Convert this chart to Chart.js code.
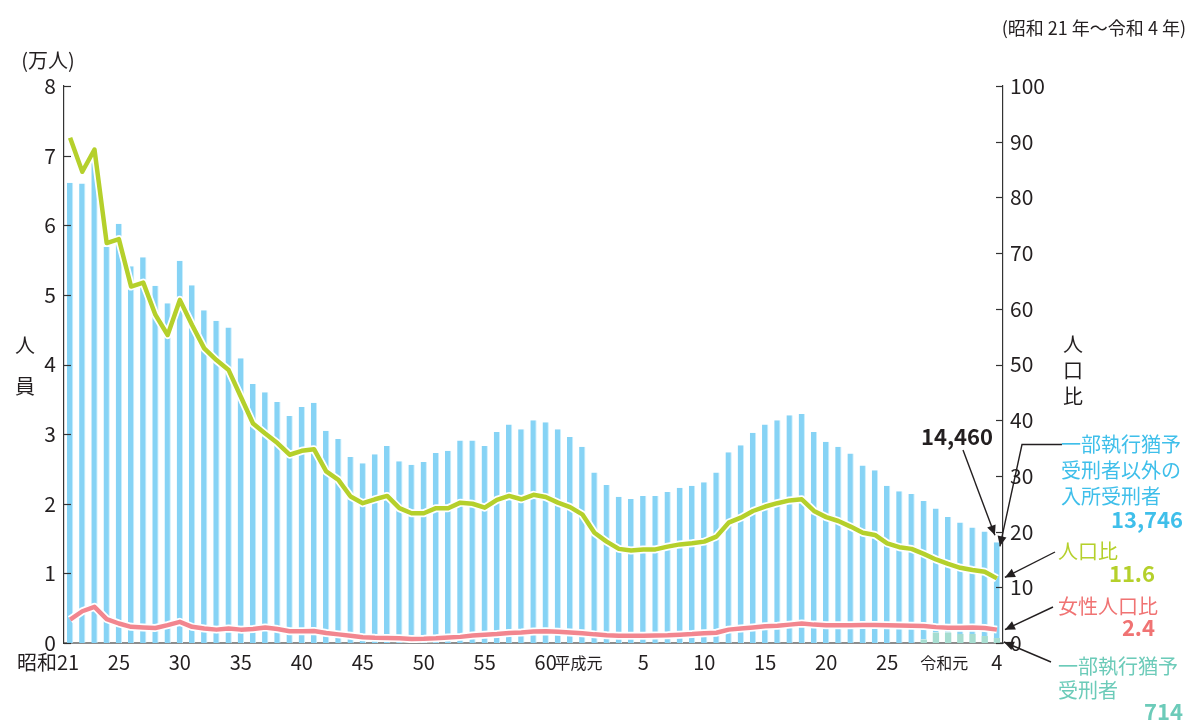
<!DOCTYPE html>
<html>
<head>
<meta charset="utf-8">
<script src="https://cdn.jsdelivr.net/npm/chart.js@4.4.1/dist/chart.umd.min.js"></script>
<style>
  html, body { margin: 0; padding: 0; background: #fff; }
  #wrap { position: relative; width: 1192px; height: 720px; }
</style>
</head>
<body>
<div id="wrap"><canvas id="chart" width="1192" height="720"></canvas></div>
<script>
// 年次 (昭和21年～令和4年)
const years = [
  '昭和21','昭和22','昭和23','昭和24','昭和25','昭和26','昭和27','昭和28','昭和29','昭和30',
  '昭和31','昭和32','昭和33','昭和34','昭和35','昭和36','昭和37','昭和38','昭和39','昭和40',
  '昭和41','昭和42','昭和43','昭和44','昭和45','昭和46','昭和47','昭和48','昭和49','昭和50',
  '昭和51','昭和52','昭和53','昭和54','昭和55','昭和56','昭和57','昭和58','昭和59','昭和60',
  '昭和61','昭和62','昭和63',
  '平成元','平成2','平成3','平成4','平成5','平成6','平成7','平成8','平成9','平成10',
  '平成11','平成12','平成13','平成14','平成15','平成16','平成17','平成18','平成19','平成20',
  '平成21','平成22','平成23','平成24','平成25','平成26','平成27','平成28','平成29','平成30',
  '令和元','令和2','令和3','令和4'
];

// 一部執行猶予受刑者以外の入所受刑者 (万人)
const otherInmates = [
  6.61, 6.60, 6.95, 5.69, 6.02, 5.41, 5.54, 5.13, 4.88, 5.49,
  5.14, 4.78, 4.63, 4.53, 4.09, 3.72, 3.60, 3.46, 3.26, 3.39,
  3.45, 3.05, 2.93, 2.67, 2.58, 2.71, 2.83, 2.61, 2.56, 2.60,
  2.73, 2.76, 2.91, 2.91, 2.83, 3.03, 3.14, 3.07, 3.20, 3.17,
  3.07, 2.96, 2.82,
  2.45, 2.27, 2.10, 2.07, 2.11, 2.11, 2.17, 2.23, 2.26, 2.31,
  2.45, 2.74, 2.84, 3.02, 3.14, 3.20, 3.27, 3.29, 3.03, 2.89,
  2.82, 2.72, 2.55, 2.48, 2.26, 2.18, 2.14, 1.99, 1.78, 1.66,
  1.60, 1.53, 1.50, 1.3746
];

// 一部執行猶予受刑者 (万人)
const partialYears = ['平成28','平成29','平成30','令和元','令和2','令和3','令和4'];
const partialInmates = [0.05, 0.15, 0.15, 0.13, 0.13, 0.10, 0.0714];

// 人口比
const rate = [
  90.7, 84.6, 88.6, 71.8, 72.5, 64.0, 64.7, 58.9, 55.3, 61.6,
  57.1, 52.9, 50.8, 49.0, 44.2, 39.4, 37.6, 35.9, 33.8, 34.5,
  34.8, 30.8, 29.3, 26.3, 25.1, 25.8, 26.4, 24.2, 23.3, 23.3,
  24.2, 24.2, 25.2, 25.0, 24.3, 25.7, 26.4, 25.8, 26.6, 26.2,
  25.2, 24.4, 23.1,
  19.8, 18.2, 16.9, 16.6, 16.8, 16.8, 17.3, 17.7, 17.9, 18.2,
  19.1, 21.6, 22.5, 23.7, 24.5, 25.1, 25.6, 25.8, 23.7, 22.6,
  21.9, 20.9, 19.8, 19.4, 17.9, 17.2, 16.9, 16.0, 15.0, 14.2,
  13.5, 13.1, 12.8, 11.6
];

// 女性人口比
const femaleRate = [
  4.2, 5.7, 6.5, 4.3, 3.5, 2.9, 2.8, 2.7, 3.2, 3.8,
  2.9, 2.6, 2.4, 2.6, 2.4, 2.5, 2.8, 2.5, 2.1, 2.1,
  2.15, 1.8, 1.55, 1.3, 1.05, 0.95, 0.9, 0.85, 0.7, 0.75,
  0.85, 1.0, 1.1, 1.35, 1.5, 1.6, 1.8, 1.9, 2.05, 2.1,
  2.0, 1.9, 1.75,
  1.55, 1.4, 1.3, 1.3, 1.3, 1.35, 1.4, 1.5, 1.6, 1.75,
  1.85, 2.4, 2.6, 2.8, 3.0, 3.1, 3.3, 3.5, 3.3, 3.2,
  3.2, 3.2, 3.25, 3.25, 3.2, 3.15, 3.1, 3.05, 2.85, 2.75,
  2.75, 2.8, 2.7, 2.4
];

// 横軸の目盛ラベル
const xTickYears = ['昭和21','昭和25','昭和30','昭和35','昭和40','昭和45','昭和50','昭和55','昭和60',
  '平成元','平成5','平成10','平成15','平成20','平成25','令和元','令和4'];
const xTickText = ['昭和21','25','30','35','40','45','50','55','60',
  '平成元','5','10','15','20','25','令和元','4'];

const totalLast = 14460;
const otherLast = 13746;
const partialLast = 714;

const FONT = "'Noto Sans CJK JP', 'Noto Sans', sans-serif";
const BLUE = '#86d3f5';
const TEAL = '#a6ddd0';
const GREEN = '#b5d02b';
const PINK = '#f2868f';

function arrow(ctx, pts) {
  ctx.beginPath();
  ctx.moveTo(pts[0][0], pts[0][1]);
  for (let k = 1; k < pts.length; k++) ctx.lineTo(pts[k][0], pts[k][1]);
  ctx.stroke();
  const [x1, y1] = pts[pts.length - 2];
  const [x2, y2] = pts[pts.length - 1];
  const a = Math.atan2(y2 - y1, x2 - x1);
  const len = 10, half = 4.5;
  ctx.beginPath();
  ctx.moveTo(x2, y2);
  ctx.lineTo(x2 - len * Math.cos(a) + half * Math.sin(a), y2 - len * Math.sin(a) - half * Math.cos(a));
  ctx.lineTo(x2 - len * Math.cos(a) - half * Math.sin(a), y2 - len * Math.sin(a) + half * Math.cos(a));
  ctx.closePath();
  ctx.fill();
}

const decor = {
  id: 'decor',
  afterDraw(chart) {
    const { ctx, chartArea: area, scales: { x, y, y2 } } = chart;
    ctx.save();

    // inward tick marks
    ctx.strokeStyle = '#333';
    ctx.lineWidth = 1.2;
    y.ticks.forEach(t => {
      const py = Math.round(y.getPixelForValue(t.value)) + 0.5;
      ctx.beginPath(); ctx.moveTo(area.left, py); ctx.lineTo(area.left + 7, py); ctx.stroke();
    });
    y2.ticks.forEach(t => {
      const py = Math.round(y2.getPixelForValue(t.value)) + 0.5;
      ctx.beginPath(); ctx.moveTo(area.right, py); ctx.lineTo(area.right - 7, py); ctx.stroke();
    });

    // x labels
    ctx.fillStyle = '#231f20';
    ctx.textBaseline = 'middle';
    xTickYears.forEach((yr, k) => {
      const px = x.getPixelForValue(years.indexOf(yr));
      const txt = xTickText[k];
      if (txt.endsWith('元')) {
        ctx.font = '16px ' + FONT; ctx.textAlign = 'right';
        ctx.fillText(txt, px + 8, 663);
      } else if (txt.startsWith('昭和')) {
        ctx.font = '20px ' + FONT; ctx.textAlign = 'right';
        ctx.fillText(txt, px + 9, 662);
      } else {
        ctx.font = '20px ' + FONT; ctx.textAlign = 'center';
        ctx.fillText(txt, px, 662);
      }
    });

    // axis titles
    ctx.textAlign = 'center';
    ctx.font = '20px ' + FONT;
    ctx.fillText('(万人)', 48, 60);
    ctx.fillText('人', 25, 345);
    ctx.fillText('員', 25, 386);
    ctx.fillText('人', 1073, 344);
    ctx.fillText('口', 1073, 370);
    ctx.fillText('比', 1073, 396);
    ctx.textAlign = 'right';
    ctx.font = '18px ' + FONT;
    ctx.fillText('(昭和 21 年～令和 4 年)', 1186, 28);

    // annotations
    const last = years.length - 1;
    const lx = x.getPixelForValue(last);
    ctx.strokeStyle = '#231f20';
    ctx.fillStyle = '#231f20';
    ctx.lineWidth = 1.4;

    ctx.font = 'bold 22px ' + FONT;
    ctx.textAlign = 'center';
    ctx.fillText(totalLast.toLocaleString('en-US'), 957, 437);
    arrow(ctx, [[963, 450], [lx - 2, y.getPixelForValue(totalLast / 10000) - 7]]);
    arrow(ctx, [[1062, 444.5], [1022, 444.5], [lx + 3, y.getPixelForValue(otherLast / 10000) - 1]]);
    arrow(ctx, [[1055, 552], [lx + 8, y2.getPixelForValue(rate[last]) - 1]]);
    arrow(ctx, [[1053, 607], [lx + 8, y2.getPixelForValue(femaleRate[last])]]);
    arrow(ctx, [[1051, 662], [lx + 7, y.getPixelForValue(0) - 1]]);

    ctx.textAlign = 'left';
    ctx.font = '20px ' + FONT;
    ctx.fillStyle = '#3fbfea';
    ctx.fillText('一部執行猶予', 1061, 444);
    ctx.fillText('受刑者以外の', 1061, 470);
    ctx.fillText('入所受刑者', 1061, 496);
    ctx.fillStyle = GREEN;
    ctx.fillText('人口比', 1058, 551);
    ctx.fillStyle = '#f07373';
    ctx.fillText('女性人口比', 1058, 606);
    ctx.fillStyle = '#6ccbb9';
    ctx.fillText('一部執行猶予', 1058, 666);
    ctx.fillText('受刑者', 1058, 690);

    ctx.textAlign = 'right';
    ctx.font = 'bold 22px ' + FONT;
    ctx.fillStyle = '#3fbfea';
    ctx.fillText(otherLast.toLocaleString('en-US'), 1183, 520);
    ctx.fillStyle = GREEN;
    ctx.fillText(rate[last].toFixed(1), 1155, 574);
    ctx.fillStyle = '#f07373';
    ctx.fillText(femaleRate[last].toFixed(1), 1155, 628);
    ctx.fillStyle = '#6ccbb9';
    ctx.fillText(String(partialLast), 1183, 712);

    ctx.restore();
  }
};

new Chart(document.getElementById('chart').getContext('2d'), {
  type: 'bar',
  plugins: [decor],
  data: {
    labels: years,
    datasets: [
      {
        label: '女性人口比',
        type: 'line',
        yAxisID: 'y2',
        data: femaleRate,
        borderColor: PINK,
        borderWidth: 4.5,
        borderJoinStyle: 'round',
        pointRadius: 0,
        tension: 0,
        order: 2
      },
      {
        label: 'outline-female',
        type: 'line',
        yAxisID: 'y2',
        data: femaleRate,
        borderColor: '#ffffff',
        borderWidth: 8,
        borderJoinStyle: 'round',
        pointRadius: 0,
        tension: 0,
        order: 3
      },
      {
        label: '人口比',
        type: 'line',
        yAxisID: 'y2',
        data: rate,
        borderColor: GREEN,
        borderWidth: 4.5,
        borderJoinStyle: 'round',
        pointRadius: 0,
        tension: 0,
        order: 0
      },
      {
        label: 'outline-rate',
        type: 'line',
        yAxisID: 'y2',
        data: rate,
        borderColor: '#ffffff',
        borderWidth: 8,
        borderJoinStyle: 'round',
        pointRadius: 0,
        tension: 0,
        order: 1
      },
      {
        label: '一部執行猶予受刑者',
        data: partialYears.map((yr, k) => ({ x: yr, y: partialInmates[k] })),
        backgroundColor: TEAL,
        barPercentage: 0.52,
        categoryPercentage: 1,
        stack: 'inmates',
        order: 4
      },
      {
        label: '一部執行猶予受刑者以外の入所受刑者',
        data: otherInmates,
        backgroundColor: BLUE,
        borderColor: '#c9eefc',
        borderWidth: { top: 0, left: 0, bottom: 0, right: 1 },
        borderSkipped: false,
        barPercentage: 0.52,
        categoryPercentage: 1,
        stack: 'inmates',
        order: 5
      }
    ]
  },
  options: {
    responsive: false,
    animation: false,
    layout: { padding: { top: 86, left: 0, right: 0, bottom: 0 } },
    plugins: {
      legend: { display: false },
      tooltip: { enabled: false }
    },
    scales: {
      x: {
        stacked: true,
        offset: true,
        grid: { display: false, drawTicks: false },
        border: { display: true, color: '#8c8c8c', width: 2 },
        ticks: { display: false },
        afterFit(scale) { scale.height = 77; }
      },
      y: {
        position: 'left',
        stacked: true,
        min: 0,
        max: 8,
        grid: { display: false, drawTicks: false },
        border: { display: true, color: '#333', width: 1.2 },
        ticks: {
          stepSize: 1,
          padding: 8,
          color: '#231f20',
          font: { family: FONT, size: 21 }
        },
        afterFit(scale) { scale.width = 64; }
      },
      y2: {
        position: 'right',
        min: 0,
        max: 100,
        grid: { display: false, drawTicks: false },
        border: { display: true, color: '#333', width: 1.2 },
        ticks: {
          stepSize: 10,
          padding: 7,
          color: '#231f20',
          font: { family: FONT, size: 21 }
        },
        afterFit(scale) { scale.width = 189; }
      }
    }
  }
});
</script>
</body>
</html>
